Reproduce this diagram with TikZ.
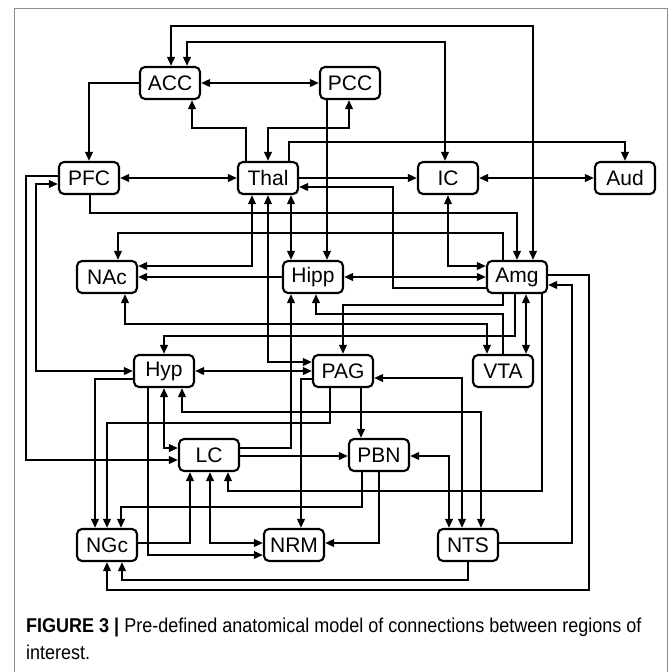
\documentclass[tikz,border=0pt]{standalone}
\usepackage{fontspec}
\setmainfont{Liberation Sans}
\usetikzlibrary{arrows.meta}
\begin{document}
\begin{tikzpicture}[x=1pt,y=-1pt,
  region/.style={draw, rounded corners=5pt, line width=2.1pt, minimum width=60pt, minimum height=32pt, inner sep=0pt, font=\fontsize{21}{24}\selectfont},
  conn/.style={line width=2.1pt},
  frameline/.style={draw=black!45, line width=0.9pt},
  captext/.style={anchor=base west, inner sep=0pt, font=\fontsize{20}{24}\selectfont},
  >={Triangle[length=9pt,width=7.5pt]}]
\useasboundingbox (0,0) rectangle (669,672);
\draw[frameline] (14,672) -- (14,8) -- (667,8) -- (667,672);

% nodes
\node[region] (ACC)  at (170,83)  {ACC};
\node[region] (PCC)  at (350,83)  {PCC};
\node[region] (PFC)  at (89,178)  {PFC};
\node[region] (Thal) at (268,178) {Thal};
\node[region] (IC)   at (448,178) {IC};
\node[region] (Aud)  at (625,178) {Aud};
\node[region] (NAc)  at (107,277) {NAc};
\node[region] (Hipp) at (313,277) {Hipp};
\node[region] (Amg)  at (517,277) {Amg};
\node[region] (Hyp)  at (164,371) {Hyp};
\node[region] (PAG)  at (343,371) {PAG};
\node[region] (VTA)  at (503,371) {VTA};
\node[region] (LC)   at (209,455) {LC};
\node[region] (PBN)  at (379,455) {PBN};
\node[region] (NGc)  at (107,545) {NGc};
\node[region] (NRM)  at (294,545) {NRM};
\node[region] (NTS)  at (468,545) {NTS};

% connectors
\draw[conn,<->] (171,0 |- ACC.north) -- (171,26) -- (533,26) -- (533,0 |- Amg.north);
\draw[conn,<->] (187,0 |- ACC.north) -- (187,42) -- (445,42) -- (445,0 |- IC.north);
\draw[conn,<->] (ACC.east) -- (PCC.west);
\draw[conn,->] (ACC.west) -| (PFC.north);
\draw[conn,->] (246,0 |- Thal.north) -- (246,128) -- (192,128) -- (192,0 |- ACC.south);
\draw[conn,<->] (Thal.north) -- (268,128) -- (349,128) -- (349,0 |- PCC.south);
\draw[conn,->] (289,0 |- Thal.north) -- (289,142) -| (Aud.north);
\draw[conn,->] (327,0 |- PCC.south) -- (327,0 |- Hipp.north);
\draw[conn,<->] (PFC.east) -- (Thal.west);
\draw[conn,->] (Thal.east) -- (IC.west);
\draw[conn,<->] (IC.east) -- (Aud.west);
\draw[conn,->] (Amg.west |- 0,288) -- (393,288) -- (393,187) -- (Thal.east |- 0,187);
\draw[conn,<->] (448,0 |- IC.south) -- (448,266) -- (Amg.west |- 0,266);
\draw[conn,->] (90,0 |- PFC.south) -- (90,213) -- (517,213) -- (Amg.north);
\draw[conn,->] (503,0 |- Amg.north) -- (503,233) -- (118,233) -- (118,0 |- NAc.north);
\draw[conn,<->] (252,0 |- Thal.south) -- (252,266) -- (NAc.east |- 0,266);
\draw[conn,->] (Hipp.west |- 0,277) -- (NAc.east |- 0,277);
\draw[conn,<->] (291,0 |- Thal.south) -- (291,0 |- Hipp.north);
\draw[conn,<->] (268,0 |- Thal.south) -- (268,362) -- (PAG.west |- 0,362);
\draw[conn,<->] (Hipp.east |- 0,277) -- (Amg.west |- 0,277);
\draw[conn,->] (503,0 |- Amg.south) -- (503,305) -- (343,305) -- (PAG.north);
\draw[conn,->] (503,0 |- VTA.north) -- (503,314) -- (316,314) -- (316,0 |- Hipp.south);
\draw[conn,<->] (125,0 |- NAc.south) -- (125,324) -- (487,324) -- (487,0 |- VTA.north);
\draw[conn,->] (515,0 |- Amg.south) -- (515,336) -- (164,336) -- (Hyp.north);
\draw[conn,<->] (526,0 |- Amg.south) -- (526,0 |- VTA.north);
\draw[conn,->] (542,0 |- Amg.south) -- (542,491) -- (228,491) -- (228,0 |- LC.south);
\draw[conn,->] (Amg.east |- 0,275) -- (589,275) -- (589,590) -- (107,590) -- (NGc.south);
\draw[conn,->] (NTS.east |- 0,543) -- (572,543) -- (572,285) -- (Amg.east |- 0,285);
\draw[conn,->] (NTS.south) -- (468,580) -- (122,580) -- (122,0 |- NGc.south);
\draw[conn,<->] (PBN.east |- 0,456) -- (449,456) -- (449,0 |- NTS.north);
\draw[conn,<->] (PAG.east |- 0,378) -- (462,378) -- (462,0 |- NTS.north);
\draw[conn,<->] (182,0 |- Hyp.south) -- (182,412) -- (481,412) -- (481,0 |- NTS.north);
\draw[conn,->] (361,0 |- PAG.south) -- (361,0 |- PBN.north);
\draw[conn,->] (330,0 |- PAG.south) -- (330,423) -- (107,423) -- (NGc.north);
\draw[conn,->] (Hyp.west |- 0,379) -- (95,379) -- (95,0 |- NGc.north);
\draw[conn,->] (362,0 |- PBN.south) -- (362,507) -- (121,507) -- (121,0 |- NGc.north);
\draw[conn,->] (379,0 |- PBN.south) -- (379,543) -- (NRM.east |- 0,543);
\draw[conn,->] (PAG.west |- 0,379) -- (301,379) -- (301,0 |- NRM.north);
\draw[conn,<->] (Hyp.east) -- (PAG.west);
\draw[conn,->] (LC.east |- 0,456) -- (PBN.west |- 0,456);
\draw[conn,->] (LC.east |- 0,448) -- (291,448) -- (291,0 |- Hipp.south);
\draw[conn,<->] (164,0 |- Hyp.south) -- (164,448) -- (LC.west |- 0,448);
\draw[conn,->] (PFC.west |- 0,176) -- (26,176) -- (26,460) -- (LC.west |- 0,460);
\draw[conn,<->] (PFC.west |- 0,184) -- (36,184) -- (36,371) -- (Hyp.west);
\draw[conn,->] (148,0 |- Hyp.south) -- (148,555) -- (NRM.west |- 0,555);
\draw[conn,->] (NGc.east |- 0,543) -- (190,543) -- (190,0 |- LC.south);
\draw[conn,<->] (210,0 |- LC.south) -- (210,543) -- (NRM.west |- 0,543);

% caption
\node[captext] (cap1) at (26,632) {\scalebox{0.9}[1]{\textbf{FIGURE 3} \textbf{|} Pre-defined anatomical model of connections between regions of}};
\node[captext] (cap2) at (26,659) {\scalebox{0.9}[1]{interest.}};
\end{tikzpicture}
\end{document}
